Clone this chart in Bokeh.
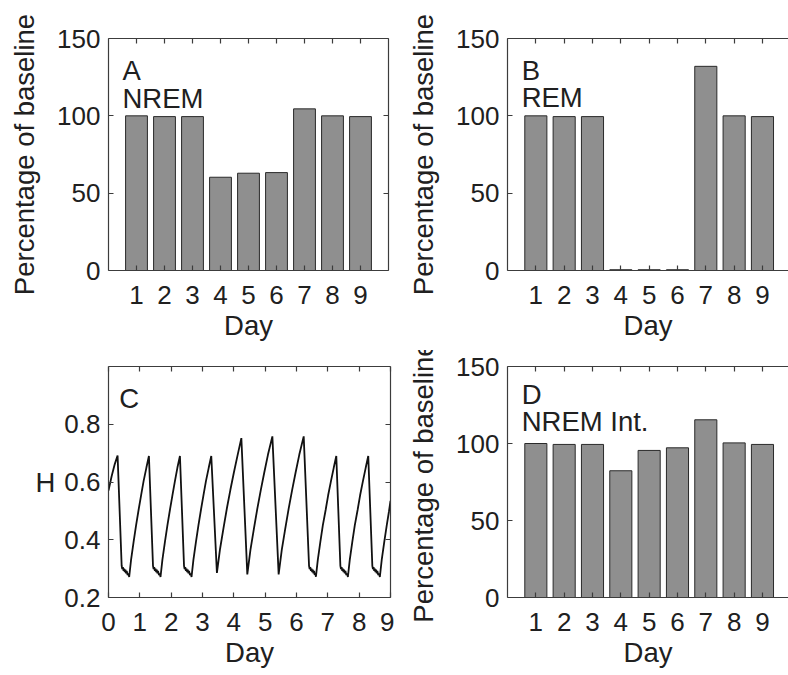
from bokeh.plotting import figure
from bokeh.layouts import column, row
from bokeh.models import LinearAxis, Range1d, FixedTicker, Label
from bokeh.embed import file_html
from bokeh.resources import INLINE

# ---------------- data ----------------
days = [1, 2, 3, 4, 5, 6, 7, 8, 9]
nrem_pct = [100.0, 99.5, 99.5, 60.3, 62.9, 63.3, 104.5, 100.0, 99.5]
rem_pct = [100.0, 99.5, 99.5, 0.5, 0.5, 0.5, 132.0, 100.0, 99.5]
nrem_int_pct = [100.0, 99.4, 99.4, 82.3, 95.5, 97.2, 115.4, 100.4, 99.4]

bar_ticks = [0, 50, 100, 150]
bar_day_ticks = [1, 2, 3, 4, 5, 6, 7, 8, 9]
h_ticks = [0.2, 0.4, 0.6, 0.8]
h_day_ticks = [0, 1, 2, 3, 4, 5, 6, 7, 8, 9]

# homeostatic process H (day, H)
h_trace = [
    (0.00, 0.570), (0.10, 0.620), (0.20, 0.662), (0.29, 0.692),
    (0.42, 0.310), (0.44, 0.298), (0.46, 0.305), (0.48, 0.292), (0.50, 0.300),
    (0.52, 0.288), (0.54, 0.296), (0.56, 0.284), (0.58, 0.292), (0.61, 0.278),
    (0.64, 0.283), (0.66, 0.271),
    (0.72, 0.330), (0.80, 0.392), (0.88, 0.450), (0.96, 0.503), (1.04, 0.554),
    (1.12, 0.603), (1.21, 0.650), (1.29, 0.690),
    (1.42, 0.310), (1.44, 0.298), (1.46, 0.305), (1.48, 0.292), (1.50, 0.300),
    (1.52, 0.288), (1.54, 0.296), (1.56, 0.284), (1.58, 0.292), (1.61, 0.278),
    (1.64, 0.283), (1.66, 0.271),
    (1.72, 0.330), (1.80, 0.392), (1.88, 0.450), (1.96, 0.503), (2.04, 0.554),
    (2.12, 0.603), (2.20, 0.650), (2.28, 0.690),
    (2.41, 0.310), (2.43, 0.298), (2.45, 0.305), (2.47, 0.292), (2.49, 0.300),
    (2.51, 0.288), (2.53, 0.296), (2.55, 0.284), (2.57, 0.292), (2.60, 0.278),
    (2.63, 0.283), (2.65, 0.271),
    (2.71, 0.330), (2.79, 0.392), (2.87, 0.450), (2.95, 0.503), (3.03, 0.554),
    (3.11, 0.603), (3.20, 0.650), (3.28, 0.690),
    (3.46, 0.285),
    (3.56, 0.368), (3.67, 0.440), (3.78, 0.510), (3.89, 0.573), (4.00, 0.632),
    (4.11, 0.688), (4.24, 0.752),
    (4.43, 0.280),
    (4.53, 0.365), (4.64, 0.438), (4.75, 0.508), (4.86, 0.572), (4.97, 0.632),
    (5.09, 0.695), (5.23, 0.758),
    (5.43, 0.280),
    (5.53, 0.365), (5.64, 0.438), (5.75, 0.508), (5.86, 0.572), (5.97, 0.632),
    (6.09, 0.695), (6.23, 0.758),
    (6.40, 0.310), (6.42, 0.298), (6.44, 0.305), (6.46, 0.292), (6.48, 0.300),
    (6.50, 0.288), (6.52, 0.296), (6.54, 0.284), (6.56, 0.292), (6.58, 0.278),
    (6.60, 0.283), (6.62, 0.272),
    (6.68, 0.330), (6.76, 0.392), (6.84, 0.450), (6.93, 0.503), (7.01, 0.554),
    (7.10, 0.603), (7.19, 0.650), (7.27, 0.690),
    (7.40, 0.310), (7.42, 0.298), (7.44, 0.305), (7.46, 0.292), (7.48, 0.300),
    (7.50, 0.288), (7.52, 0.296), (7.54, 0.284), (7.56, 0.292), (7.59, 0.278),
    (7.62, 0.283), (7.64, 0.271),
    (7.70, 0.330), (7.78, 0.392), (7.86, 0.450), (7.95, 0.503), (8.03, 0.554),
    (8.12, 0.603), (8.21, 0.650), (8.29, 0.690),
    (8.42, 0.310), (8.44, 0.298), (8.46, 0.305), (8.48, 0.292), (8.50, 0.300),
    (8.52, 0.288), (8.54, 0.296), (8.56, 0.284), (8.58, 0.292), (8.61, 0.278),
    (8.64, 0.283), (8.66, 0.271),
    (8.72, 0.330), (8.80, 0.392), (8.88, 0.450), (8.95, 0.497), (9.00, 0.535),
]
h_day = [d for d, _ in h_trace]
h_val = [v for _, v in h_trace]

# ---------------- style ----------------
FONT = "Liberation Sans"
AX_COLOR = "#3c3c3c"
TXT_COLOR = "#202020"
BAR_FILL = "#8f8f8f"
BAR_EDGE = "#2a2a2a"
TICK_FS = "26px"
LAB_FS = "27.5px"


def style_axis(ax, ticks, labels=True, std=8):
    ax.ticker = FixedTicker(ticks=ticks)
    ax.major_tick_in = 5
    ax.major_tick_out = 0
    ax.minor_tick_in = 0
    ax.minor_tick_out = 0
    ax.axis_line_color = AX_COLOR
    ax.axis_line_width = 1.2
    ax.major_tick_line_color = AX_COLOR
    ax.major_tick_line_width = 1.2
    ax.major_label_text_font = FONT
    ax.major_label_text_color = TXT_COLOR
    ax.axis_label_text_font = FONT
    ax.axis_label_text_font_size = LAB_FS
    ax.axis_label_text_font_style = "normal"
    ax.axis_label_text_color = TXT_COLOR
    if labels:
        ax.major_label_text_font_size = TICK_FS
        ax.major_label_standoff = std
    else:
        ax.major_label_overrides = {t: "" for t in ticks}
        ax.major_label_text_font_size = "1px"
        ax.major_label_standoff = 0


def make_fig(width, height, left, right, top, bottom, xr, yr, xticks, yticks,
             xlabel, ylabel, right_axis=True):
    p = figure(width=width, height=height, x_range=Range1d(*xr), y_range=Range1d(*yr),
               output_backend="svg", toolbar_location=None,
               min_border_left=left, min_border_right=right,
               min_border_top=top, min_border_bottom=bottom)
    p.xgrid.visible = False
    p.ygrid.visible = False
    p.outline_line_color = None
    p.background_fill_color = "white"
    p.border_fill_color = "white"
    xa = p.xaxis[0]
    ya = p.yaxis[0]
    style_axis(xa, xticks, True, 15)
    style_axis(ya, yticks, True, 8)
    xa.axis_label = xlabel
    xa.axis_label_standoff = 3
    if ylabel:
        ya.axis_label = ylabel
        ya.axis_label_standoff = 14
    top_ax = LinearAxis()
    style_axis(top_ax, xticks, False)
    p.add_layout(top_ax, "above")
    if right_axis:
        r_ax = LinearAxis()
        style_axis(r_ax, yticks, False)
        p.add_layout(r_ax, "right")
    return p


def add_text(p, x, y, txt):
    p.add_layout(Label(x=x, y=y, text=txt, text_font=FONT, text_font_size=LAB_FS,
                       text_color=TXT_COLOR, text_baseline="alphabetic",
                       text_align="left"))


TOP_H, BOT_H = 350, 325
LW, RW = 394, 394

# Panel A
pA = make_fig(LW, TOP_H, 108, 6, 38, 80, (0, 10), (0, 150), bar_day_ticks, bar_ticks,
              "Day", "Percentage of baseline")
pA.vbar(x=days, top=nrem_pct, bottom=0, width=0.78, fill_color=BAR_FILL,
        line_color=BAR_EDGE, line_width=1)
add_text(pA, 0.5, 129.3, "A")
add_text(pA, 0.5, 111.2, "NREM")

# Panel B
pB = make_fig(RW, TOP_H, 113, 0, 38, 80, (0, 281 / 28.33), (0, 150), bar_day_ticks, bar_ticks,
              "Day", "Percentage of baseline", right_axis=False)
pB.vbar(x=days, top=rem_pct, bottom=0, width=0.78, fill_color=BAR_FILL,
        line_color=BAR_EDGE, line_width=1)
add_text(pB, 0.5, 129.3, "B")
add_text(pB, 0.5, 111.9, "REM")

# Panel C
pC = make_fig(LW, BOT_H, 108, 4, 16, 78, (0, 9), (0.2, 1.0), h_day_ticks, h_ticks,
              "Day", None)
pC.line(x=h_day, y=h_val, line_color="#111111", line_width=1.8)
pC.yaxis[0].axis_label = "H"
pC.yaxis[0].axis_label_orientation = "horizontal"
pC.yaxis[0].axis_label_standoff = 6
add_text(pC, 0.34, 0.889, "C")

# Panel D
pD = make_fig(RW, BOT_H, 113, 0, 16, 78, (0, 281 / 28.33), (0, 150), bar_day_ticks, bar_ticks,
              "Day", "Percentage of baseline", right_axis=False)
pD.vbar(x=days, top=nrem_int_pct, bottom=0, width=0.78, fill_color=BAR_FILL,
        line_color=BAR_EDGE, line_width=1)
add_text(pD, 0.5, 132.1, "D")
add_text(pD, 0.5, 114.6, "NREM Int.")

layout = column(row(pA, pB), row(pC, pD))

open("out.html", "w").write(file_html(layout, INLINE))
